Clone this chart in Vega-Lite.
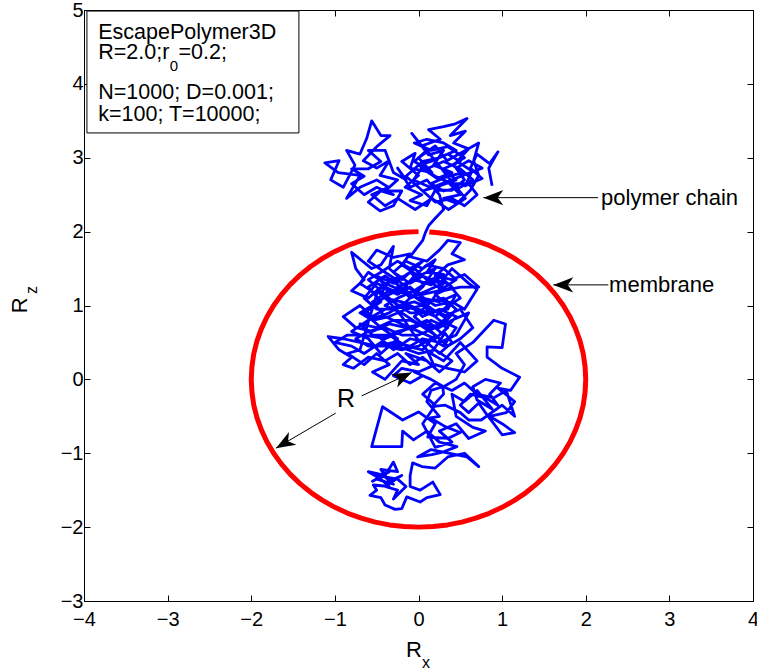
{
"$schema": "https://vega.github.io/schema/vega-lite/v6.json",
"width": 669, "height": 591,
"autosize": {"type": "none"},
"padding": {"left": 84, "top": 10, "right": 4, "bottom": 71},
"background": "white",
"config": {
 "view": {"stroke": "black", "strokeWidth": 1},
 "font": "Liberation Sans",
 "axis": {"domainColor": "black", "domainWidth": 1, "tickColor": "black", "tickWidth": 1, "labelColor": "black", "labelFont": "Liberation Sans", "labelFontSize": 20, "grid": false, "labelFlush": false, "labelOverlap": false, "tickSize": -6}
},
"datasets": {
 "circle": [
  {"x":0.0,"y":2.0},{"x":-0.174,"y":1.992},{"x":-0.347,"y":1.970},{"x":-0.518,"y":1.932},{"x":-0.684,"y":1.879},{"x":-0.845,"y":1.813},{"x":-1.0,"y":1.732},{"x":-1.147,"y":1.638},{"x":-1.286,"y":1.532},{"x":-1.414,"y":1.414},{"x":-1.532,"y":1.286},{"x":-1.638,"y":1.147},{"x":-1.732,"y":1.0},{"x":-1.813,"y":0.845},{"x":-1.879,"y":0.684},{"x":-1.932,"y":0.518},{"x":-1.970,"y":0.347},{"x":-1.992,"y":0.174},{"x":-2.0,"y":0.0},
  {"x":-1.992,"y":-0.174},{"x":-1.970,"y":-0.347},{"x":-1.932,"y":-0.518},{"x":-1.879,"y":-0.684},{"x":-1.813,"y":-0.845},{"x":-1.732,"y":-1.0},{"x":-1.638,"y":-1.147},{"x":-1.532,"y":-1.286},{"x":-1.414,"y":-1.414},{"x":-1.286,"y":-1.532},{"x":-1.147,"y":-1.638},{"x":-1.0,"y":-1.732},{"x":-0.845,"y":-1.813},{"x":-0.684,"y":-1.879},{"x":-0.518,"y":-1.932},{"x":-0.347,"y":-1.970},{"x":-0.174,"y":-1.992},{"x":0.0,"y":-2.0},
  {"x":0.174,"y":-1.992},{"x":0.347,"y":-1.970},{"x":0.518,"y":-1.932},{"x":0.684,"y":-1.879},{"x":0.845,"y":-1.813},{"x":1.0,"y":-1.732},{"x":1.147,"y":-1.638},{"x":1.286,"y":-1.532},{"x":1.414,"y":-1.414},{"x":1.532,"y":-1.286},{"x":1.638,"y":-1.147},{"x":1.732,"y":-1.0},{"x":1.813,"y":-0.845},{"x":1.879,"y":-0.684},{"x":1.932,"y":-0.518},{"x":1.970,"y":-0.347},{"x":1.992,"y":-0.174},{"x":2.0,"y":0.0},
  {"x":1.992,"y":0.174},{"x":1.970,"y":0.347},{"x":1.932,"y":0.518},{"x":1.879,"y":0.684},{"x":1.813,"y":0.845},{"x":1.732,"y":1.0},{"x":1.638,"y":1.147},{"x":1.532,"y":1.286},{"x":1.414,"y":1.414},{"x":1.286,"y":1.532},{"x":1.147,"y":1.638},{"x":1.0,"y":1.732},{"x":0.845,"y":1.813},{"x":0.684,"y":1.879},{"x":0.518,"y":1.932},{"x":0.347,"y":1.970},{"x":0.174,"y":1.992},{"x":0.129,"y":1.996}
 ],
 "chain": [
  {"x":0.88,"y":2.62},{"x":0.84,"y":2.86},{"x":0.95,"y":3.08},{"x":0.85,"y":2.92},{"x":0.7,"y":3.05},{"x":0.62,"y":2.86},{"x":0.76,"y":2.72},{"x":0.56,"y":2.62},{"x":0.64,"y":2.82},{"x":0.46,"y":2.95},{"x":0.6,"y":3.12},{"x":0.42,"y":3.2},{"x":0.56,"y":3.36},{"x":0.38,"y":3.3},{"x":0.58,"y":3.53},{"x":0.44,"y":3.46},{"x":0.3,"y":3.42},{"x":0.12,"y":3.38},{"x":0.26,"y":3.25},{"x":0.04,"y":3.16},{"x":-0.08,"y":3.33},{"x":0.12,"y":3.04},{"x":0.3,"y":3.1},{"x":0.18,"y":2.9},{"x":0.4,"y":2.8},{"x":0.22,"y":2.72},{"x":0.04,"y":2.86},{"x":-0.06,"y":2.7},{"x":0.14,"y":2.6},{"x":0.36,"y":2.66},{"x":0.5,"y":2.5},{"x":0.3,"y":2.45},{"x":0.46,"y":2.38},{"x":0.62,"y":2.56},{"x":0.72,"y":2.76},{"x":0.66,"y":2.96},{"x":0.72,"y":3.2},{"x":0.5,"y":3.06},{"x":0.34,"y":2.96},{"x":0.2,"y":3.16},{"x":0.0,"y":3.0},{"x":0.16,"y":2.8},{"x":-0.1,"y":2.86},{"x":-0.04,"y":3.06},{"x":-0.2,"y":2.95},{"x":0.0,"y":2.76},{"x":-0.16,"y":2.6},{"x":0.04,"y":2.5},{"x":-0.1,"y":2.42},{"x":0.1,"y":2.35},{"x":0.2,"y":2.56},{"x":0.4,"y":2.56},{"x":0.55,"y":2.7},{"x":0.45,"y":2.86},{"x":0.6,"y":2.96},{"x":0.76,"y":2.86},
  {"x":0.05,"y":2.55},{"x":0.25,"y":2.62},{"x":0.45,"y":2.7},{"x":0.3,"y":2.85},{"x":0.5,"y":2.95},{"x":0.35,"y":3.05},{"x":0.15,"y":2.95},{"x":0.0,"y":2.9},{"x":0.2,"y":2.75},{"x":0.4,"y":2.65},{"x":0.6,"y":2.65},{"x":0.7,"y":2.5},{"x":0.55,"y":2.35},{"x":0.4,"y":2.45},{"x":0.2,"y":2.4},{"x":0.0,"y":2.6},{"x":-0.15,"y":2.75},{"x":0.05,"y":2.95},{"x":0.25,"y":3.0},{"x":0.45,"y":3.1},{"x":0.3,"y":3.2},{"x":0.1,"y":3.25},{"x":-0.05,"y":3.2},
  {"x":0.15,"y":3.1},{"x":0.35,"y":3.15},{"x":0.55,"y":3.0},{"x":0.4,"y":2.9},{"x":0.55,"y":2.8},{"x":0.35,"y":2.75},{"x":0.15,"y":2.65},{"x":0.3,"y":2.55},{"x":0.5,"y":2.6},{"x":0.65,"y":2.7},{"x":0.5,"y":2.85},{"x":0.3,"y":2.95},{"x":0.1,"y":2.85},{"x":-0.05,"y":2.95},{"x":0.1,"y":3.1},
  {"x":0.56,"y":2.45},{"x":0.36,"y":2.3},{"x":0.16,"y":2.45},{"x":-0.04,"y":2.3},{"x":-0.25,"y":2.45},{"x":-0.4,"y":2.35},{"x":-0.56,"y":2.5},{"x":-0.36,"y":2.6},{"x":-0.5,"y":2.7},{"x":-0.7,"y":2.6},{"x":-0.86,"y":2.45},{"x":-0.7,"y":2.76},{"x":-0.96,"y":2.8},{"x":-1.12,"y":2.93},{"x":-0.95,"y":2.96},{"x":-1.05,"y":2.7},{"x":-0.9,"y":2.6},{"x":-0.76,"y":2.9},{"x":-0.86,"y":3.1},{"x":-0.7,"y":3.05},{"x":-0.62,"y":3.26},{"x":-0.56,"y":3.5},{"x":-0.45,"y":3.3},{"x":-0.34,"y":3.3},{"x":-0.5,"y":3.15},{"x":-0.66,"y":2.96},{"x":-0.5,"y":2.86},{"x":-0.35,"y":2.96},{"x":-0.46,"y":2.76},{"x":-0.25,"y":2.7},{"x":-0.4,"y":2.55},{"x":-0.2,"y":2.55},{"x":-0.3,"y":2.35},{"x":-0.46,"y":2.28},{"x":-0.6,"y":2.4},{"x":-0.45,"y":2.55},
  {"x":-0.3,"y":2.5},{"x":-0.5,"y":2.6},{"x":-0.65,"y":2.5},{"x":-0.8,"y":2.65},{"x":-0.65,"y":2.75},{"x":-0.8,"y":2.85},{"x":-0.6,"y":2.85},{"x":-0.45,"y":2.95},{"x":-0.6,"y":3.1},{"x":-0.4,"y":3.1},{"x":-0.3,"y":2.8},{"x":-0.15,"y":2.7},
  {"x":-0.25,"y":2.86},{"x":-0.1,"y":2.6},{"x":0.1,"y":2.7},{"x":0.25,"y":2.5},{"x":0.3,"y":2.3},{"x":0.2,"y":2.18},{"x":0.12,"y":2.08},{"x":0.08,"y":1.98},{"x":0.05,"y":1.88},
  {"x":-0.02,"y":1.78},{"x":-0.1,"y":1.66},{"x":0.1,"y":1.6},{"x":0.25,"y":1.75},{"x":0.35,"y":1.88},{"x":0.5,"y":1.85},{"x":0.4,"y":1.7},{"x":0.55,"y":1.62},{"x":0.35,"y":1.55},{"x":0.2,"y":1.4},{"x":0.4,"y":1.35},{"x":0.55,"y":1.42},{"x":0.72,"y":1.25},{"x":0.5,"y":1.25},{"x":0.3,"y":1.2},{"x":0.1,"y":1.35},{"x":-0.05,"y":1.5},{"x":-0.2,"y":1.35},{"x":-0.35,"y":1.5},{"x":-0.3,"y":1.8},{"x":-0.45,"y":1.55},{"x":-0.56,"y":1.5},{"x":-0.8,"y":1.72},{"x":-0.75,"y":1.5},{"x":-0.65,"y":1.35},{"x":-0.8,"y":1.2},{"x":-0.6,"y":1.1},{"x":-0.45,"y":1.25},{"x":-0.25,"y":1.15},{"x":-0.1,"y":1.25},{"x":0.05,"y":1.1},{"x":0.25,"y":1.05},{"x":0.45,"y":1.15},{"x":0.35,"y":0.95},{"x":0.15,"y":0.9},{"x":-0.05,"y":0.95},{"x":-0.2,"y":1.0},{"x":-0.4,"y":0.95},{"x":-0.55,"y":0.85},{"x":-0.7,"y":1.0},{"x":-0.9,"y":0.85},{"x":-0.75,"y":0.7},{"x":-0.55,"y":0.65},{"x":-0.35,"y":0.75},{"x":-0.15,"y":0.7},{"x":0.05,"y":0.75},{"x":0.25,"y":0.7},{"x":0.4,"y":0.8},{"x":0.6,"y":0.9},{"x":0.45,"y":0.6},{"x":0.25,"y":0.5},{"x":0.05,"y":0.55},{"x":-0.1,"y":0.45},{"x":-0.3,"y":0.5},{"x":-0.5,"y":0.45},{"x":-0.7,"y":0.5},{"x":-0.9,"y":0.55},{"x":-1.08,"y":0.58},{"x":-0.95,"y":0.4},{"x":-0.8,"y":0.3},{"x":-0.9,"y":0.2},{"x":-0.78,"y":0.15},{"x":-0.6,"y":0.3},{"x":-0.4,"y":0.25},{"x":-0.25,"y":0.35},{"x":-0.1,"y":0.2},{"x":0.05,"y":0.3},{"x":0.2,"y":0.15},{"x":0.1,"y":0.4},{"x":-0.05,"y":0.6},{"x":-0.2,"y":0.85},{"x":-0.35,"y":1.05},{"x":-0.5,"y":1.2},{"x":-0.3,"y":1.35},{"x":-0.1,"y":1.1},{"x":0.1,"y":1.2},{"x":0.3,"y":1.3},{"x":0.15,"y":1.05},{"x":-0.05,"y":0.85},{"x":0.15,"y":0.65},{"x":0.35,"y":0.45},{"x":0.5,"y":0.55},{"x":0.65,"y":0.7},{"x":0.5,"y":0.95},{"x":0.3,"y":0.85},{"x":0.1,"y":1.0},{"x":-0.15,"y":1.2},{"x":-0.4,"y":1.4},{"x":-0.6,"y":1.25},{"x":-0.45,"y":1.05},{"x":-0.65,"y":0.9},{"x":-0.45,"y":0.7},{"x":-0.25,"y":0.55},{"x":-0.45,"y":0.35},{"x":-0.6,"y":0.55},{"x":-0.8,"y":0.65},{"x":-0.6,"y":0.8},{"x":-0.35,"y":0.9},{"x":-0.15,"y":1.05},{"x":0.05,"y":1.25},{"x":0.2,"y":1.5},{"x":0.0,"y":1.4},{"x":-0.2,"y":1.55},{"x":-0.1,"y":1.7},{"x":-0.3,"y":1.65},{"x":-0.5,"y":1.75},{"x":-0.6,"y":1.6},{"x":-0.4,"y":1.45},{"x":-0.2,"y":1.3},{"x":0.0,"y":1.15},{"x":0.2,"y":1.0},{"x":0.4,"y":1.05},{"x":0.55,"y":0.95},{"x":0.7,"y":1.22},{"x":0.6,"y":1.3},{"x":0.4,"y":1.5},{"x":0.25,"y":1.3},{"x":0.05,"y":1.4},{"x":-0.1,"y":1.3},
  {"x":-0.3,"y":1.45},{"x":-0.15,"y":1.6},{"x":0.05,"y":1.5},{"x":0.2,"y":1.62},{"x":0.1,"y":1.45},{"x":0.3,"y":1.42},{"x":0.15,"y":1.28},{"x":-0.05,"y":1.35},{"x":-0.25,"y":1.25},{"x":-0.4,"y":1.1},{"x":-0.2,"y":1.05},{"x":0.0,"y":0.95},{"x":0.2,"y":0.85},{"x":0.35,"y":1.0},{"x":0.2,"y":1.15},{"x":0.4,"y":1.25},{"x":0.25,"y":1.4},{"x":0.05,"y":1.3},{"x":-0.1,"y":1.45},{"x":-0.3,"y":1.3},{"x":-0.5,"y":1.4},{"x":-0.35,"y":1.2},{"x":-0.55,"y":1.05},{"x":-0.4,"y":0.85},{"x":-0.2,"y":0.75},{"x":0.0,"y":0.65},{"x":0.2,"y":0.55},{"x":0.35,"y":0.7},{"x":0.15,"y":0.8},{"x":-0.05,"y":0.7},{"x":-0.25,"y":0.65},{"x":-0.45,"y":0.55},{"x":-0.3,"y":0.4},{"x":-0.1,"y":0.55},{"x":0.1,"y":0.5},{"x":0.25,"y":0.35},{"x":0.4,"y":0.5},{"x":0.3,"y":0.65},{"x":0.45,"y":0.85},{"x":0.25,"y":0.95},{"x":0.05,"y":0.85},{"x":-0.1,"y":1.0},{"x":-0.3,"y":0.95},{"x":-0.5,"y":0.95},{"x":-0.65,"y":1.1},{"x":-0.5,"y":1.3},{"x":-0.3,"y":1.2},{"x":-0.1,"y":1.15},{"x":0.1,"y":1.05},{"x":0.3,"y":1.1},{"x":0.45,"y":0.95},{"x":0.3,"y":0.75},{"x":0.1,"y":0.7},{"x":-0.1,"y":0.8},{"x":-0.3,"y":0.8},{"x":-0.5,"y":0.7},{"x":-0.7,"y":0.75},{"x":-0.55,"y":0.6},{"x":-0.35,"y":0.6},{"x":-0.15,"y":0.45},{"x":0.05,"y":0.4},{"x":0.2,"y":0.6},{"x":0.0,"y":0.75},{"x":-0.2,"y":0.9},{"x":-0.4,"y":1.0},{"x":-0.25,"y":1.1},{"x":-0.05,"y":1.2},{"x":0.15,"y":1.35},{"x":0.35,"y":1.3},{"x":0.5,"y":1.1},{"x":0.3,"y":0.95},{"x":0.1,"y":0.9},{"x":-0.1,"y":0.9},{"x":-0.3,"y":1.05},{"x":-0.45,"y":1.15},{"x":-0.35,"y":1.35},{"x":-0.15,"y":1.4},{"x":0.05,"y":1.6},{"x":-0.1,"y":1.5},{"x":-0.25,"y":1.6},{"x":-0.45,"y":1.45},{"x":-0.6,"y":1.35},{"x":-0.45,"y":1.2},{"x":-0.25,"y":1.0},{"x":-0.05,"y":1.05},{"x":0.15,"y":0.95},{"x":0.35,"y":0.85},{"x":0.2,"y":0.7},{"x":0.0,"y":0.6},{"x":-0.2,"y":0.6},{"x":-0.4,"y":0.7},{"x":-0.6,"y":0.65},{"x":-0.75,"y":0.55},{"x":-0.6,"y":0.45},{"x":-0.4,"y":0.45},{"x":-0.2,"y":0.4},{"x":0.0,"y":0.45},{"x":0.15,"y":0.55},{"x":0.3,"y":0.45},{"x":0.45,"y":0.7},{"x":0.25,"y":0.8},{"x":0.05,"y":1.0},{"x":-0.15,"y":0.95},{"x":-0.35,"y":0.85},{"x":-0.55,"y":0.8},{"x":-0.7,"y":0.9},{"x":-0.55,"y":1.0},{"x":-0.35,"y":1.15},{"x":-0.15,"y":1.25},{"x":0.05,"y":1.15},{"x":0.25,"y":1.2},{"x":0.45,"y":1.35},{"x":0.3,"y":1.5},{"x":0.1,"y":1.55},{"x":-0.05,"y":1.4},{"x":-0.2,"y":1.2},{"x":-0.4,"y":1.3},{"x":-0.6,"y":1.45},{"x":-0.7,"y":1.3},{"x":-0.5,"y":1.15},
  {"x":-0.7,"y":0.4},{"x":-0.85,"y":0.35},{"x":-0.65,"y":0.2},{"x":-0.5,"y":0.35},{"x":-0.35,"y":0.2},{"x":-0.55,"y":0.1},{"x":-0.4,"y":0.0},{"x":-0.2,"y":0.25},{"x":0.0,"y":0.2},{"x":-0.15,"y":0.35},{"x":0.1,"y":0.25},{"x":0.25,"y":0.1},{"x":0.4,"y":0.25},{"x":0.2,"y":0.4},{"x":0.0,"y":0.35},{"x":-0.25,"y":0.45},{"x":-0.45,"y":0.5},{"x":-0.65,"y":0.35},{"x":-0.8,"y":0.45},{"x":-1.0,"y":0.5},{"x":-0.85,"y":0.6},{"x":-0.65,"y":0.6},{"x":-0.4,"y":0.55},
  {"x":0.1,"y":0.8},{"x":0.3,"y":0.6},{"x":0.15,"y":0.35},{"x":0.3,"y":0.25},{"x":0.5,"y":0.5},{"x":0.7,"y":0.25},{"x":0.55,"y":0.1},{"x":0.35,"y":0.15},{"x":0.2,"y":0.2},{"x":0.0,"y":0.1},{"x":-0.2,"y":0.15},{"x":-0.3,"y":0.05},{"x":-0.1,"y":-0.05},{"x":0.05,"y":0.05},{"x":-0.05,"y":0.1},{"x":0.15,"y":0.0},{"x":0.3,"y":-0.1},{"x":0.45,"y":0.0},{"x":0.55,"y":0.2},{"x":0.45,"y":0.35},{"x":0.65,"y":0.5},{"x":0.9,"y":0.8},{"x":1.04,"y":0.75},{"x":1.0,"y":0.43},{"x":0.82,"y":0.44},{"x":0.82,"y":0.3},{"x":1.0,"y":0.15},{"x":1.21,"y":0.03},{"x":1.1,"y":-0.15},{"x":0.95,"y":-0.12},{"x":1.15,"y":-0.3},{"x":1.05,"y":-0.45},{"x":0.85,"y":-0.5},{"x":1.0,"y":-0.6},{"x":1.15,"y":-0.72},{"x":1.0,"y":-0.75},{"x":0.9,"y":-0.6},{"x":0.8,"y":-0.45},{"x":0.72,"y":-0.32},{"x":0.6,"y":-0.45},{"x":0.5,"y":-0.35},{"x":0.62,"y":-0.2},{"x":0.8,"y":-0.25},{"x":0.95,"y":-0.35},
  {"x":0.85,"y":-0.2},{"x":0.98,"y":-0.05},{"x":0.8,"y":0.0},{"x":0.65,"y":-0.1},{"x":0.7,"y":-0.28},{"x":0.88,"y":-0.4},
  {"x":0.7,"y":-0.15},{"x":0.55,"y":-0.3},{"x":0.4,"y":-0.2},{"x":0.45,"y":-0.5},{"x":0.65,"y":-0.65},{"x":0.8,"y":-0.7},{"x":0.6,"y":-0.8},{"x":0.45,"y":-0.6},{"x":0.25,"y":-0.7},{"x":0.4,"y":-0.85},{"x":0.2,"y":-0.92},{"x":0.05,"y":-0.6},{"x":0.2,"y":-0.35},{"x":0.05,"y":-0.2},{"x":0.2,"y":-0.05},{"x":0.4,"y":-0.15},{"x":0.55,"y":-0.05},{"x":0.7,"y":-0.2},{"x":0.9,"y":-0.25},{"x":1.05,"y":-0.15},{"x":1.15,"y":-0.5},{"x":1.0,"y":-0.35},
  {"x":0.75,"y":-0.55},{"x":0.6,"y":-0.55},{"x":0.5,"y":-0.45},{"x":0.32,"y":-0.35},{"x":0.16,"y":-0.37},{"x":0.3,"y":-0.2},{"x":0.29,"y":-0.1},{"x":0.15,"y":-0.15},{"x":0.1,"y":-0.3},{"x":0.25,"y":-0.5},{"x":0.14,"y":-0.52},{"x":0.32,"y":-0.64},{"x":0.5,"y":-0.72},{"x":0.35,"y":-0.8},{"x":0.11,"y":-0.78},{"x":0.2,"y":-0.6},{"x":0.0,"y":-0.44},{"x":-0.19,"y":-0.55},{"x":-0.43,"y":-0.37},{"x":-0.56,"y":-0.91},{"x":-0.2,"y":-0.91},{"x":-0.19,"y":-0.7},{"x":-0.06,"y":-0.82},{"x":0.1,"y":-0.7},{"x":0.25,"y":-0.85},{"x":0.46,"y":-0.91},{"x":0.3,"y":-0.98},{"x":0.16,"y":-1.02},{"x":-0.01,"y":-1.05},{"x":0.15,"y":-0.95},{"x":0.58,"y":-1.05},{"x":0.72,"y":-1.18},{"x":0.55,"y":-1.0},{"x":0.35,"y":-1.05},{"x":0.2,"y":-1.2},{"x":0.04,"y":-1.18},{"x":-0.07,"y":-1.13},{"x":-0.1,"y":-1.3},{"x":-0.1,"y":-1.45},{"x":0.02,"y":-1.5},{"x":0.17,"y":-1.39},{"x":0.26,"y":-1.56},{"x":0.1,"y":-1.6},{"x":0.02,"y":-1.66},{"x":-0.14,"y":-1.59},{"x":-0.2,"y":-1.75},{"x":-0.28,"y":-1.76},{"x":-0.4,"y":-1.7},{"x":-0.45,"y":-1.6},{"x":-0.58,"y":-1.57},{"x":-0.5,"y":-1.5},{"x":-0.54,"y":-1.43},{"x":-0.35,"y":-1.45},{"x":-0.45,"y":-1.35},{"x":-0.6,"y":-1.25},{"x":-0.4,"y":-1.3},{"x":-0.3,"y":-1.12},{"x":-0.25,"y":-1.25},{"x":-0.45,"y":-1.22},{"x":-0.35,"y":-1.38},{"x":-0.2,"y":-1.3},{"x":-0.4,"y":-1.45},{"x":-0.25,"y":-1.5},{"x":-0.3,"y":-1.62},{"x":-0.15,"y":-1.45},{"x":-0.25,"y":-1.35},{"x":-0.5,"y":-1.3},
  {"x":-0.35,"y":-1.25},{"x":-0.55,"y":-1.38},{"x":-0.42,"y":-1.3},{"x":-0.3,"y":-1.42},{"x":-0.5,"y":-1.35}
 ],
 "box": [{"x":-3.965,"x2":-1.43,"y":4.986,"y2":3.336}],
 "boxtext": [
  {"x":-3.83,"y":4.608,"t":"EscapePolymer3D"},
  {"x":-3.83,"y":4.337,"t":"R=2.0;r"},
  {"x":-2.87,"y":4.337,"t":"=0.2;"},
  {"x":-3.83,"y":3.792,"t":"N=1000; D=0.001;"},
  {"x":-3.83,"y":3.498,"t":"k=100; T=10000;"}
 ],
 "arrows": [
  {"x":2.147,"y":2.46,"x2":0.775,"y2":2.46},
  {"x":2.27,"y":1.279,"x2":1.612,"y2":1.279},
  {"x":-0.679,"y":-0.223,"x2":-0.081,"y2":0.092},
  {"x":-0.99,"y":-0.457,"x2":-1.705,"y2":-0.931}
 ],
 "heads_left": [{"x":0.775,"y":2.46},{"x":1.612,"y":1.279}],
 "head_r1": [{"x":-0.081,"y":0.092}],
 "head_r2": [{"x":-1.705,"y":-0.931}],
 "notes": [
  {"x":2.183,"y":2.361,"t":"polymer chain"},
  {"x":2.279,"y":1.188,"t":"membrane"}
 ]
},
"layer": [
 {"data": {"name": "circle"},
  "mark": {"type": "line", "color": "#FF0000", "strokeWidth": 5, "strokeJoin": "round"},
  "encoding": {
   "x": {"field": "x", "type": "quantitative", "title": null, "scale": {"domain": [-4, 4], "nice": false, "zero": false},
         "axis": {"orient": "bottom", "values": [-4,-3,-2,-1,0,1,2,3,4], "labelPadding": 14}},
   "y": {"field": "y", "type": "quantitative", "title": null, "scale": {"domain": [-3, 5], "nice": false, "zero": false},
         "axis": {"orient": "left", "values": [-3,-2,-1,0,1,2,3,4,5], "labelPadding": 7}},
   "order": {"value": null}
  }},
 {"data": {"name": "chain"},
  "mark": {"type": "line", "color": "#0000FF", "strokeWidth": 2.8, "strokeJoin": "round"},
  "encoding": {
   "x": {"field": "x", "type": "quantitative", "scale": {"domain": [-4, 4], "nice": false, "zero": false}, "axis": null},
   "y": {"field": "y", "type": "quantitative", "scale": {"domain": [-3, 5], "nice": false, "zero": false}, "axis": null},
   "order": {"value": null}
  }},
 {"data": {"name": "box"},
  "mark": {"type": "rect", "fill": "white", "stroke": "black", "strokeWidth": 1},
  "encoding": {
   "x": {"field": "x", "type": "quantitative", "title": null, "scale": {"domain": [-4, 4], "nice": false, "zero": false},
         "axis": {"orient": "top", "values": [-4,-3,-2,-1,0,1,2,3,4], "labels": false}},
   "x2": {"field": "x2"},
   "y": {"field": "y", "type": "quantitative", "title": null, "scale": {"domain": [-3, 5], "nice": false, "zero": false},
         "axis": {"orient": "right", "values": [-3,-2,-1,0,1,2,3,4,5], "labels": false}},
   "y2": {"field": "y2"}
  }},
 {"data": {"name": "boxtext"},
  "mark": {"type": "text", "align": "left", "baseline": "alphabetic", "fontSize": 21.5, "font": "Liberation Sans", "color": "black"},
  "encoding": {
   "x": {"field": "x", "type": "quantitative", "scale": {"domain": [-4, 4], "nice": false, "zero": false}, "axis": null},
   "y": {"field": "y", "type": "quantitative", "scale": {"domain": [-3, 5], "nice": false, "zero": false}, "axis": null},
   "text": {"field": "t"}
  }},
 {"data": {"values": [{"x":-2.975,"y":4.179,"t":"0"}]},
  "mark": {"type": "text", "align": "left", "baseline": "alphabetic", "fontSize": 15, "font": "Liberation Sans", "color": "black"},
  "encoding": {
   "x": {"field": "x", "type": "quantitative", "scale": {"domain": [-4, 4], "nice": false, "zero": false}, "axis": null},
   "y": {"field": "y", "type": "quantitative", "scale": {"domain": [-3, 5], "nice": false, "zero": false}, "axis": null},
   "text": {"field": "t"}
  }},
 {"data": {"name": "arrows"},
  "mark": {"type": "rule", "color": "black", "strokeWidth": 1},
  "encoding": {
   "x": {"field": "x", "type": "quantitative", "scale": {"domain": [-4, 4], "nice": false, "zero": false}, "axis": null},
   "y": {"field": "y", "type": "quantitative", "scale": {"domain": [-3, 5], "nice": false, "zero": false}, "axis": null},
   "x2": {"field": "x2"},
   "y2": {"field": "y2"}
  }},
 {"data": {"name": "heads_left"},
  "mark": {"type": "point", "shape": "M0,0L-1,-0.38L-0.72,0L-1,0.38Z", "size": 1600, "angle": 180, "filled": true, "color": "black", "opacity": 1, "strokeWidth": 0},
  "encoding": {
   "x": {"field": "x", "type": "quantitative", "scale": {"domain": [-4, 4], "nice": false, "zero": false}, "axis": null},
   "y": {"field": "y", "type": "quantitative", "scale": {"domain": [-3, 5], "nice": false, "zero": false}, "axis": null}
  }},
 {"data": {"name": "head_r1"},
  "mark": {"type": "point", "shape": "M0,0L-1,-0.38L-0.72,0L-1,0.38Z", "size": 1500, "angle": 335, "filled": true, "color": "black", "opacity": 1, "strokeWidth": 0},
  "encoding": {
   "x": {"field": "x", "type": "quantitative", "scale": {"domain": [-4, 4], "nice": false, "zero": false}, "axis": null},
   "y": {"field": "y", "type": "quantitative", "scale": {"domain": [-3, 5], "nice": false, "zero": false}, "axis": null}
  }},
 {"data": {"name": "head_r2"},
  "mark": {"type": "point", "shape": "M0,0L-1,-0.38L-0.72,0L-1,0.38Z", "size": 1500, "angle": 150, "filled": true, "color": "black", "opacity": 1, "strokeWidth": 0},
  "encoding": {
   "x": {"field": "x", "type": "quantitative", "scale": {"domain": [-4, 4], "nice": false, "zero": false}, "axis": null},
   "y": {"field": "y", "type": "quantitative", "scale": {"domain": [-3, 5], "nice": false, "zero": false}, "axis": null}
  }},
 {"data": {"name": "notes"},
  "mark": {"type": "text", "align": "left", "baseline": "alphabetic", "fontSize": 22, "font": "Liberation Sans", "color": "black"},
  "encoding": {
   "x": {"field": "x", "type": "quantitative", "scale": {"domain": [-4, 4], "nice": false, "zero": false}, "axis": null},
   "y": {"field": "y", "type": "quantitative", "scale": {"domain": [-3, 5], "nice": false, "zero": false}, "axis": null},
   "text": {"field": "t"}
  }},
 {"data": {"values": [{"x":-0.867,"y":-0.368,"t":"R"}]},
  "mark": {"type": "text", "align": "center", "baseline": "alphabetic", "fontSize": 25, "font": "Liberation Sans", "color": "black"},
  "encoding": {
   "x": {"field": "x", "type": "quantitative", "scale": {"domain": [-4, 4], "nice": false, "zero": false}, "axis": null},
   "y": {"field": "y", "type": "quantitative", "scale": {"domain": [-3, 5], "nice": false, "zero": false}, "axis": null},
   "text": {"field": "t"}
  }},
 {"data": {"values": [{"x":-0.054,"y":-3.755,"t":"R"}]},
  "mark": {"type": "text", "align": "center", "baseline": "alphabetic", "fontSize": 22, "font": "Liberation Sans", "color": "black"},
  "encoding": {
   "x": {"field": "x", "type": "quantitative", "scale": {"domain": [-4, 4], "nice": false, "zero": false}, "axis": null},
   "y": {"field": "y", "type": "quantitative", "scale": {"domain": [-3, 5], "nice": false, "zero": false}, "axis": null},
   "text": {"field": "t"}
  }},
 {"data": {"values": [{"x":0.09,"y":-3.904,"t":"x"}]},
  "mark": {"type": "text", "align": "center", "baseline": "alphabetic", "fontSize": 16, "font": "Liberation Sans", "color": "black"},
  "encoding": {
   "x": {"field": "x", "type": "quantitative", "scale": {"domain": [-4, 4], "nice": false, "zero": false}, "axis": null},
   "y": {"field": "y", "type": "quantitative", "scale": {"domain": [-3, 5], "nice": false, "zero": false}, "axis": null},
   "text": {"field": "t"}
  }},
 {"data": {"values": [{"x":-4.683,"y":1.001,"t":"R"}]},
  "mark": {"type": "text", "align": "center", "baseline": "alphabetic", "angle": 270, "fontSize": 22, "font": "Liberation Sans", "color": "black"},
  "encoding": {
   "x": {"field": "x", "type": "quantitative", "scale": {"domain": [-4, 4], "nice": false, "zero": false}, "axis": null},
   "y": {"field": "y", "type": "quantitative", "scale": {"domain": [-3, 5], "nice": false, "zero": false}, "axis": null},
   "text": {"field": "t"}
  }},
 {"data": {"values": [{"x":-4.563,"y":1.211,"t":"z"}]},
  "mark": {"type": "text", "align": "center", "baseline": "alphabetic", "angle": 270, "fontSize": 16, "font": "Liberation Sans", "color": "black"},
  "encoding": {
   "x": {"field": "x", "type": "quantitative", "scale": {"domain": [-4, 4], "nice": false, "zero": false}, "axis": null},
   "y": {"field": "y", "type": "quantitative", "scale": {"domain": [-3, 5], "nice": false, "zero": false}, "axis": null},
   "text": {"field": "t"}
  }}
],
"resolve": {"axis": {"x": "independent", "y": "independent"}}
}
